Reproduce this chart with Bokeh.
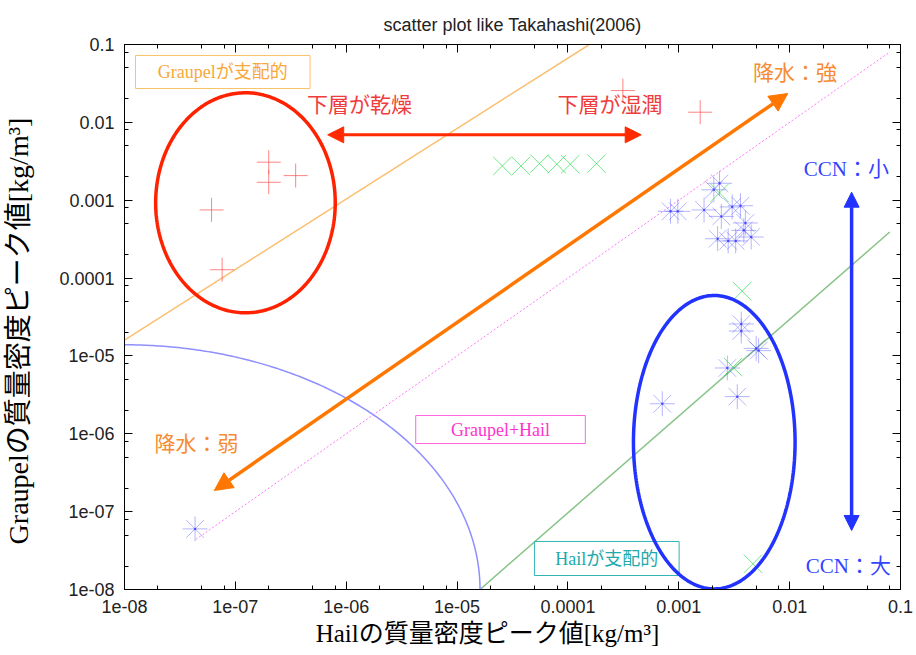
import numpy as np
from bokeh.plotting import figure
from bokeh.models import (LogAxis, FixedTicker, Arrow, NormalHead, Label, Range1d,
                          ColumnDataSource, CustomJSTickFormatter)
from bokeh.embed import file_html
from bokeh.resources import INLINE

# ---------------- data ----------------
tick_values = [1e-8, 1e-7, 1e-6, 1e-5, 1e-4, 1e-3, 1e-2, 1e-1]
tick_labels = ["1e-08", "1e-07", "1e-06", "1e-05", "0.0001", "0.001", "0.01", "0.1"]
minor_factors = [2, 5, 8]

# red "+" series
plus_hail = [6.1e-8, 7.6e-8, 2.0e-7, 2.0e-7, 3.5e-7, 3.13e-4, 1.56e-3]
plus_graupel = [7.5e-4, 1.28e-4, 3.08e-3, 1.70e-3, 2.07e-3, 2.56e-2, 1.35e-2]

# green "x" series
cross_hail = [2.56e-5, 3.77e-5, 5.54e-5, 7.94e-5, 1.05e-4, 1.81e-4,
              2.33e-3, 3.73e-3, 3.08e-3, 4.66e-3]
cross_graupel = [2.75e-3, 2.75e-3, 2.95e-3, 2.90e-3, 2.90e-3, 2.95e-3,
                 1.24e-3, 6.8e-5, 7.2e-6, 2.14e-8]

# blue star series
star_hail = [8.43e-4, 9.8e-4, 1.69e-3, 2.33e-3, 2.07e-3, 2.42e-3, 3.03e-3, 3.6e-3,
             3.99e-3, 3.86e-3, 2.24e-3, 2.79e-3, 3.26e-3, 4.5e-3,
             3.66e-3, 3.66e-3, 5.25e-3, 4.99e-3, 2.74e-3, 3.37e-3, 7.1e-4, 4.33e-8]
star_graupel = [7.2e-4, 7.2e-4, 7.5e-4, 1.65e-3, 1.36e-3, 6.2e-4, 8.2e-4, 8.5e-4,
                5.1e-4, 4.1e-4, 3.2e-4, 3.0e-4, 3.0e-4, 3.37e-4,
                2.57e-5, 2.09e-5, 1.17e-5, 1.25e-5, 7.0e-6, 3.0e-6, 2.43e-6, 6.0e-8]

# guide lines
graupel_line_x = [1e-8, 1.56e-4]
graupel_line_y = [1.6e-5, 1e-1]
hail_line_x = [1.61e-5, 8.0e-2]
hail_line_y = [1e-8, 3.9e-4]
equal_line_x = [4.4e-8, 8.0e-2]
equal_line_y = [4.4e-8, 8.0e-2]
# quarter-ellipse boundary (log-space radii, decades) centred at (1e-8, 1e-8)
arc_rx, arc_ry = 3.207, 3.143

# annotation ellipses in log10 space: centre x, centre y, radius x, radius y
dry_ellipse = (-6.909, -3.033, 0.810, 1.413)
ccn_ellipse = (-2.680, -6.108, 0.729, 1.884)

# ---------------- figure ----------------
SERIF_S = "Liberation Serif, Noto Sans CJK JP"
PAD = "\u00a0"

p = figure(width=916, height=655, x_axis_type="log", y_axis_type="log",
           x_range=Range1d(1e-8, 1e-1), y_range=Range1d(1e-8, 1e-1),
           output_backend="svg", toolbar_location=None,
           min_border_left=122, min_border_right=16, min_border_top=44,
           min_border_bottom=66, title="scatter plot like Takahashi(2006)")
p.title.align = "center"
p.title.text_font = "Liberation Sans"
p.title.text_font_size = "18px"
p.title.text_font_style = "normal"
p.title.text_color = "#222222"
p.title.standoff = 20
p.xgrid.visible = False
p.ygrid.visible = False
p.outline_line_color = "black"
p.outline_line_width = 1
p.background_fill_color = "white"
p.border_fill_color = "white"

minor = [f * t for t in tick_values[:-1] for f in minor_factors]
ticker = FixedTicker(ticks=tick_values, minor_ticks=minor)
fmt = CustomJSTickFormatter(args=dict(labels=tick_labels),
                            code="const e = Math.round(Math.log10(tick)); return labels[e + 8];")
blank_fmt = CustomJSTickFormatter(code="return '';")

def style_axis(ax, show_labels=True):
    ax.ticker = ticker
    ax.axis_line_color = "black"
    ax.major_tick_in = 8
    ax.major_tick_out = 0
    ax.minor_tick_in = 4
    ax.minor_tick_out = 0
    ax.major_tick_line_color = "black"
    ax.minor_tick_line_color = "black"
    if show_labels:
        ax.formatter = fmt
        ax.major_label_text_font = "Liberation Sans"
        ax.major_label_text_font_size = "18px"
        ax.major_label_text_color = "#222222"
        ax.major_label_standoff = 10
    else:
        ax.formatter = blank_fmt
        ax.major_label_text_font_size = "2px"
        ax.major_label_standoff = 0

for ax in p.xaxis + p.yaxis:
    style_axis(ax)

p.xaxis.axis_label = "Hailの質量密度ピーク値[kg/m³]" + PAD * 8
p.yaxis.axis_label = "Graupelの質量密度ピーク値[kg/m³]" + PAD * 4
for ax in p.xaxis + p.yaxis:
    ax.axis_label_text_font = SERIF_S
    ax.axis_label_text_font_style = "normal"
    ax.axis_label_text_color = "black"
p.xaxis.axis_label_text_font_size = "25px"
p.yaxis.axis_label_text_font_size = "28px"
p.xaxis.axis_label_standoff = 4
p.yaxis.axis_label_standoff = 22

top_ax = LogAxis()
right_ax = LogAxis()
style_axis(top_ax, False)
style_axis(right_ax, False)
p.add_layout(top_ax, "above")
p.add_layout(right_ax, "right")

# ---------------- guide lines ----------------
p.line(graupel_line_x, graupel_line_y, line_color="#fbbf70", line_width=1.5)
p.line(hail_line_x, hail_line_y, line_color="#88c488", line_width=1.5)
p.line(equal_line_x, equal_line_y, line_color="#ff77ff", line_width=1, line_dash="2 2")
th = np.linspace(0, np.pi / 2, 200)
p.line(10 ** (-8 + arc_rx * np.cos(th)), 10 ** (-8 + arc_ry * np.sin(th)),
       line_color="#8f8fff", line_width=1.5)

# ---------------- boxed labels ----------------
boxes = dict(left=[10**-7.901, 10**-5.373, 10**-4.302],
             right=[10**-6.326, 10**-3.843, 10**-2.997],
             top=[10**-1.141, 10**-5.765, 10**-7.383],
             bottom=[10**-1.565, 10**-6.125, 10**-7.820],
             color=["#f9c36a", "#ff66dd", "#33b5b5"])
p.quad(left="left", right="right", top="top", bottom="bottom", source=ColumnDataSource(boxes),
       fill_alpha=0, line_color="color", line_width=1)

def label(x, y, text, color, size="21px", align="left"):
    p.add_layout(Label(x=10**x, y=10**y, text=text, text_color=color,
                       text_font=SERIF_S, text_font_size=size,
                       text_align=align, text_baseline="middle"))

label(-7.114, -1.353, "Graupelが支配的", "#f7a83a", "18px", "center")
label(-4.608, -5.945, "Graupel+Hail", "#ff33cc", "18px", "center")
label(-3.650, -7.602, "Hailが支配的", "#22aaaa", "18px", "center")
label(-6.353, -1.771, "下層が乾燥", "#f03c3c")
label(-4.095, -1.771, "下層が湿潤", "#f03c3c")
label(-2.331, -1.372, "降水：強", "#f68b33")
label(-7.730, -6.125, "降水：弱", "#f68b33")
label(-1.873, -2.605, "CCN：小", "#3344ff")
label(-1.855, -7.704, "CCN：大", "#3344ff")

# ---------------- markers ----------------
p.scatter(plus_hail, plus_graupel, marker="cross", size=24, line_color="#ff5050",
          line_alpha=0.7, line_width=1)
p.scatter(cross_hail, cross_graupel, marker="x", size=26, line_color="#33dd55",
          line_alpha=0.7, line_width=1)
star_src = ColumnDataSource(dict(x=star_hail, y=star_graupel))
p.scatter("x", "y", source=star_src, marker="cross", size=25, line_color="#5a5aff",
          line_alpha=0.45, line_width=1)
p.scatter("x", "y", source=star_src, marker="x", size=25, line_color="#5a5aff",
          line_alpha=0.45, line_width=1)
p.scatter("x", "y", source=star_src, marker="circle", size=2.5, line_alpha=0,
          fill_color="#3030ff", fill_alpha=0.7)

# ---------------- ellipses ----------------
t = np.linspace(0, 2 * np.pi, 300)
for (cx, cy, rx, ry), col in [(dry_ellipse, "#ff2200"), (ccn_ellipse, "#2233ff")]:
    p.line(10 ** (cx + rx * np.cos(t)), 10 ** (cy + ry * np.sin(t)),
           line_color=col, line_width=3.5)

# ---------------- arrows ----------------
def arrow(x0, y0, x1, y1, col, w, hs):
    p.add_layout(Arrow(x_start=10**x0, y_start=10**y0, x_end=10**x1, y_end=10**y1,
                       line_color=col, line_width=w,
                       start=NormalHead(size=hs, fill_color=col, line_color=col, line_width=1),
                       end=NormalHead(size=hs, fill_color=col, line_color=col, line_width=1)))

arrow(-6.167, -2.160, -3.339, -2.160, "#ff2a00", 3, 16)
arrow(-7.190, -6.728, -2.017, -1.629, "#ff7700", 3.5, 18)
arrow(-1.441, -2.897, -1.441, -7.242, "#2233ff", 3.5, 15)

open("out.html", "w").write(file_html(p, INLINE))
